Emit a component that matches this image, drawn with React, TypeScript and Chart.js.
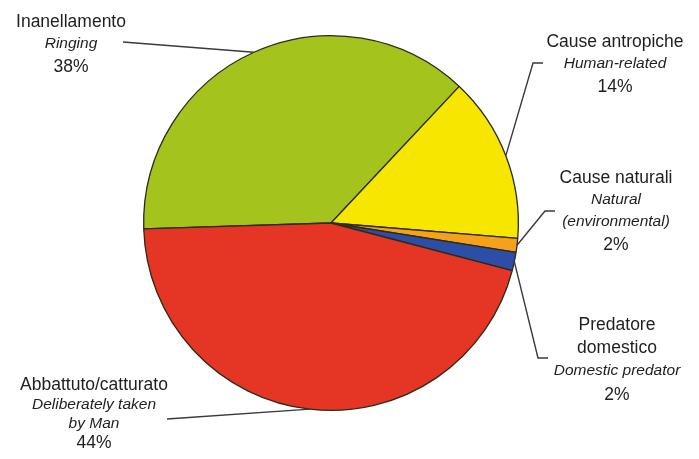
import React, { useEffect, useRef } from "react";
import { Chart, registerables } from "chart.js";

Chart.register(...registerables);

// ---- data ----
const categories = ["Ringing", "Human-related", "Natural", "Domestic predator", "Deliberately taken by Man"];
const shares = [37.5, 14.3, 1.2, 1.6, 45.4];
const percentLabels = ["38%", "14%", "2%", "2%", "44%"];
const italianNames = [["Inanellamento"], ["Cause antropiche"], ["Cause naturali"], ["Predatore", "domestico"], ["Abbattuto/catturato"]];
const englishNames = [["Ringing"], ["Human-related"], ["Natural", "(environmental)"], ["Domestic predator"], ["Deliberately taken", "by Man"]];
const sliceColors = ["#a5c31d", "#f6e600", "#f4a21e", "#2d4ea6", "#e53524"];

// ---- layout of the labels (positions only) ----
const labelLayout = [
  { x: 71, ys: [22, 44, 67], leader: [[123, 42]] },
  { x: 615, ys: [42, 64, 87], leader: [[533, 63], [543, 63]] },
  { x: 616, ys: [178, 200, 222, 245], leader: [[545, 211], [555, 211]] },
  { x: 617, ys: [325, 348, 371, 395], leader: [[538, 358], [548, 358]] },
  { x: 94, ys: [385, 405, 424, 443], leader: [[167, 419]] },
];

const labelPlugin = {
  id: "pieLabels",
  afterDraw(chart: any) {
    const ctx = chart.ctx;
    const meta = chart.getDatasetMeta(0);
    ctx.save();
    meta.data.forEach((arc: any, i: number) => {
      const p = arc.getProps(["x", "y", "startAngle", "endAngle", "outerRadius"], true);
      const mid = (p.startAngle + p.endAngle) / 2;
      const sx = p.x + Math.cos(mid) * p.outerRadius;
      const sy = p.y + Math.sin(mid) * p.outerRadius;
      const lay = labelLayout[i];
      ctx.beginPath();
      ctx.strokeStyle = "#3a3a3a";
      ctx.lineWidth = 1.4;
      ctx.moveTo(sx, sy);
      lay.leader.forEach(([lx, ly]) => ctx.lineTo(lx, ly));
      ctx.stroke();

      const lines: { t: string; italic: boolean }[] = [];
      italianNames[i].forEach((t) => lines.push({ t, italic: false }));
      englishNames[i].forEach((t) => lines.push({ t, italic: true }));
      lines.push({ t: percentLabels[i], italic: false });
      ctx.textAlign = "center";
      ctx.textBaseline = "middle";
      ctx.fillStyle = "#1e1e1e";
      lines.forEach((ln, k) => {
        ctx.font = ln.italic ? "italic 15.5px 'Liberation Sans', Arial, sans-serif" : "17.5px 'Liberation Sans', Arial, sans-serif";
        ctx.fillText(ln.t, lay.x, lay.ys[k]);
      });
    });
    ctx.restore();
  },
};

export default function App() {
  const ref = useRef<HTMLCanvasElement | null>(null);
  useEffect(() => {
    if (!ref.current) return;
    const chart = new Chart(ref.current, {
      type: "pie",
      data: {
        labels: categories,
        datasets: [
          {
            data: shares,
            backgroundColor: sliceColors,
            borderColor: "#2e2a1a",
            borderWidth: 1.3,
          },
        ],
      },
      options: {
        responsive: false,
        maintainAspectRatio: false,
        animation: false,
        rotation: 268.2,
        layout: { padding: { top: 35, bottom: 48, left: 143, right: 180 } },
        plugins: {
          legend: { display: false },
          tooltip: { enabled: false },
        },
      },
      plugins: [labelPlugin],
    });
    return () => chart.destroy();
  }, []);
  return (
    <div style={{ position: "fixed", left: 0, top: 0, width: 699, height: 459, background: "#ffffff" }}>
      <canvas ref={ref} width={699} height={459} style={{ width: 699, height: 459 }} />
    </div>
  );
}
